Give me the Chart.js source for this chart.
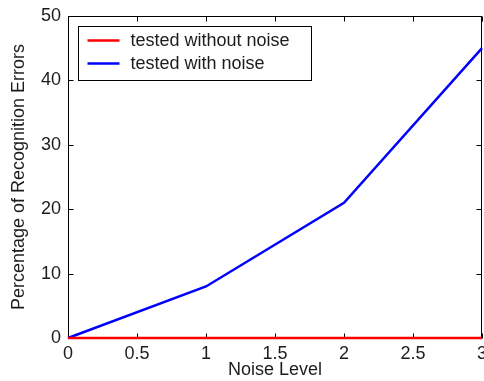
<!DOCTYPE html>
<html>
<head>
<meta charset="utf-8">
<script src="https://cdn.jsdelivr.net/npm/chart.js@4/dist/chart.umd.min.js"></script>
<style>
html,body{margin:0;padding:0;background:#fff;}
#wrap{width:484px;height:381px;}
</style>
</head>
<body>
<div id="wrap"><canvas id="c" width="484" height="381"></canvas></div>
<script>
const noiseLevels = [0, 1, 2, 3];
const errorsWithoutNoise = [0, 0, 0, 0];
const errorsWithNoise = [0, 8, 21, 45];
const seriesLabels = ['tested without noise', 'tested with noise'];
const xTitle = 'Noise Level';
const yTitle = 'Percentage of Recognition Errors';

const FONT = "'Liberation Sans', Arial, sans-serif";
const TXT = '#1c1c1c';

const boxPlugin = {
  id: 'matlabBox',
  beforeDatasetsDraw(chart) {
    const ctx = chart.ctx;
    const a = chart.chartArea;
    const xs = chart.scales.x, ys = chart.scales.y;
    ctx.save();
    ctx.strokeStyle = '#000';
    ctx.lineWidth = 1;
    const L = Math.round(a.left) + 0.5, R = Math.round(a.right) - 0.5;
    const T = Math.round(a.top) + 0.5, B = Math.round(a.bottom) + 0.5;
    ctx.beginPath();
    const tl = 5;
    xs.ticks.forEach(t => {
      const px = Math.round(xs.getPixelForValue(t.value)) + 0.5;
      ctx.moveTo(px, B); ctx.lineTo(px, B - tl);
      ctx.moveTo(px, T); ctx.lineTo(px, T + tl);
    });
    ys.ticks.forEach(t => {
      const py = Math.round(ys.getPixelForValue(t.value)) + 0.5;
      ctx.moveTo(L, py); ctx.lineTo(L + tl, py);
      ctx.moveTo(R, py); ctx.lineTo(R - tl, py);
    });
    ctx.stroke();
    ctx.strokeRect(L, T, R - L, B - T);
    ctx.restore();
  },
  afterDatasetsDraw(chart) {
    const ctx = chart.ctx;
    const a = chart.chartArea;
    ctx.save();
    ctx.strokeStyle = '#000';
    ctx.lineWidth = 1;
    const L = Math.round(a.left) + 0.5, T = Math.round(a.top) + 0.5;
    const lx = L + 9, ly = T + 9, lw = 233, lh = 54;
    ctx.fillStyle = '#fff';
    ctx.fillRect(lx, ly, lw, lh);
    ctx.strokeRect(Math.round(lx) + 0.5, Math.round(ly) + 0.5, lw, lh);
    chart.data.datasets.forEach((ds, i) => {
      const yy = ly + 15 + i * 23;
      ctx.strokeStyle = ds.borderColor;
      ctx.lineWidth = 2.5;
      ctx.beginPath();
      ctx.moveTo(lx + 10, yy); ctx.lineTo(lx + 42, yy);
      ctx.stroke();
      ctx.fillStyle = TXT;
      ctx.font = '18px ' + FONT;
      ctx.textBaseline = 'middle';
      ctx.textAlign = 'left';
      ctx.fillText(ds.label, lx + 53, yy + 1);
    });
    ctx.restore();
  }
};

new Chart(document.getElementById('c'), {
  type: 'line',
  data: {
    datasets: [
      { label: seriesLabels[0], data: noiseLevels.map((x, i) => ({x, y: errorsWithoutNoise[i]})),
        borderColor: '#ff0000', borderWidth: 2.5, pointRadius: 0, tension: 0, fill: false, clip: false },
      { label: seriesLabels[1], data: noiseLevels.map((x, i) => ({x, y: errorsWithNoise[i]})),
        borderColor: '#0000ff', borderWidth: 2.5, pointRadius: 0, tension: 0, fill: false, clip: false }
    ]
  },
  options: {
    responsive: false,
    animation: false,
    devicePixelRatio: 1,
    layout: { padding: { top: 16, right: 2, left: 0, bottom: 0 } },
    plugins: { legend: { display: false }, tooltip: { enabled: false } },
    scales: {
      x: {
        type: 'linear', min: 0, max: 3,
        grid: { display: false, drawTicks: false },
        border: { display: false },
        ticks: { stepSize: 0.5, color: TXT, font: { family: FONT, size: 18 }, padding: 5, maxRotation: 0, autoSkip: false,
          callback: v => String(v) },
        title: { display: true, text: xTitle, color: TXT, font: { family: FONT, size: 18 }, padding: { top: 0, bottom: 0 } },
        afterFit(s) { s.height = 43; s.paddingLeft = 0; s.paddingRight = 0; }
      },
      y: {
        type: 'linear', min: 0, max: 50,
        grid: { display: false, drawTicks: false },
        border: { display: false },
        ticks: { stepSize: 10, color: TXT, font: { family: FONT, size: 18 }, padding: 7 },
        title: { display: true, text: yTitle, color: TXT, font: { family: FONT, size: 18 }, padding: { top: 8, bottom: 0 } },
        afterFit(s) { s.width = 68; s.paddingTop = 0; s.paddingBottom = 0; }
      }
    }
  },
  plugins: [boxPlugin]
});
</script>
</body>
</html>
